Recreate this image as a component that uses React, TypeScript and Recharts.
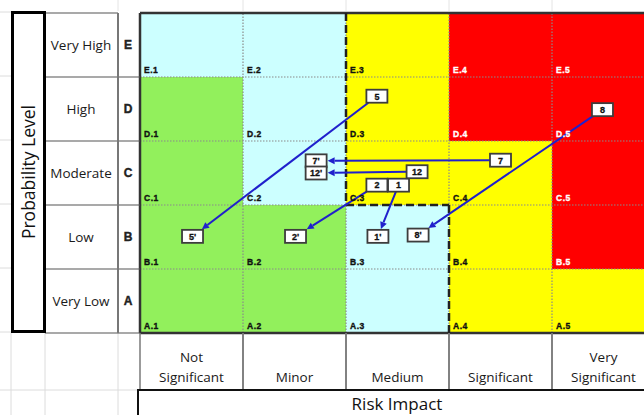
import React from 'react';
import { ScatterChart, Scatter, XAxis, YAxis, ReferenceArea, ReferenceLine } from 'recharts';

// impact categories (x axis), split into the lines they wrap to
const IMPACT = [['Not', 'Significant'], ['Minor'], ['Medium'], ['Significant'], ['Very', 'Significant']];
// probability levels (y axis), bottom to top
const LEVELS = ['Very Low', 'Low', 'Moderate', 'High', 'Very High'];
const CODES = ['A', 'B', 'C', 'D', 'E'];
const TICKS = [0.5, 1.5, 2.5, 3.5, 4.5];

// zone of each cell, rows A..E, columns 1..5
const ZONES = [
  ['G', 'G', 'C', 'Y', 'Y'],
  ['G', 'G', 'C', 'Y', 'R'],
  ['G', 'C', 'Y', 'Y', 'R'],
  ['G', 'C', 'Y', 'R', 'R'],
  ['C', 'C', 'Y', 'R', 'R'],
];
const ZONE_FILL: Record<string, string> = { G: '#92F05C', C: '#CCFFFF', Y: '#FFFF00', R: '#FF0000' };

// risks: where they sit now and where they move after mitigation
const RISK_IDS = ['1', '2', '5', '7', '8', '12'];
const BEFORE_X = [2.51, 2.3, 2.3, 3.5, 4.49, 2.69];
const BEFORE_Y = [2.31, 2.31, 3.7, 2.7, 3.49, 2.52];
const AFTER_X = [2.31, 1.51, 0.51, 1.71, 2.7, 1.71];
const AFTER_Y = [1.51, 1.51, 1.51, 2.69, 1.53, 2.5];

// acceptable-risk boundary (staircase)
const BOUNDARY = [
  { x: 2, y: 5 },
  { x: 2, y: 2 },
  { x: 3, y: 2 },
  { x: 3, y: 0 },
];

const W = 660;
const H = 391;
const MARGIN = { top: 13, right: 5, bottom: 0, left: 12 };
const Y_AXIS_W = 128;
const X_AXIS_H = 58;
const PLOT_LEFT = MARGIN.left + Y_AXIS_W;
const PLOT_BOTTOM = H - X_AXIS_H;
const COL_W = (W - PLOT_LEFT - MARGIN.right) / 5;
const ROW_H = (PLOT_BOTTOM - MARGIN.top) / 5;

const FONT = '"Open Sans", sans-serif';
const BOLD = '"Liberation Sans", Arial, sans-serif';
const BLUE = '#2020CC';
const BOX_W = 21;
const BOX_H = 13;

const before = RISK_IDS.map((id, i) => ({ id, x: BEFORE_X[i], y: BEFORE_Y[i] }));
const after = RISK_IDS.map((id, i) => ({ id: id + "'", x: AFTER_X[i], y: AFTER_Y[i] }));

function ImpactTick(props: any) {
  const { x, payload } = props;
  const lines = IMPACT[Math.floor(payload.value)];
  const left = x - COL_W / 2;
  return (
    <g>
      <line x1={left} x2={left} y1={PLOT_BOTTOM} y2={PLOT_BOTTOM + 57} stroke="#7a7a7a" strokeWidth={1.5} />
      <line x1={left + COL_W} x2={left + COL_W} y1={PLOT_BOTTOM} y2={PLOT_BOTTOM + 57} stroke="#7a7a7a" strokeWidth={1.5} />
      <text textAnchor="middle" fontSize={13.5} fontFamily={FONT} fill="#1a1a1a">
        {lines.map((l, k) => (
          <tspan key={k} x={x} y={PLOT_BOTTOM + 49 - (lines.length - 1 - k) * 20}>
            {l}
          </tspan>
        ))}
      </text>
    </g>
  );
}

function LevelTick(props: any) {
  const { y, payload } = props;
  const i = Math.floor(payload.value);
  const top = y - ROW_H / 2;
  return (
    <g>
      <line x1={45} x2={i === 4 ? 118 : PLOT_LEFT} y1={top} y2={top} stroke="#555" strokeWidth={1.2} />
      {i === 0 && <line x1={45} x2={PLOT_LEFT} y1={top + ROW_H} y2={top + ROW_H} stroke="#555" strokeWidth={1.2} />}
      <line x1={118} x2={118} y1={top} y2={top + ROW_H} stroke="#777" strokeWidth={2} />
      <text x={81} y={y + 5} textAnchor="middle" fontSize={13.5} fontFamily={FONT} fill="#1a1a1a">
        {LEVELS[i]}
      </text>
      <text x={128} y={y + 4} textAnchor="middle" fontSize={12} fontWeight={700} fontFamily={BOLD} fill="#222" stroke="#222" strokeWidth={0.4}>
        {CODES[i]}
      </text>
    </g>
  );
}

function RiskBox(props: any) {
  const { cx, cy, payload } = props;
  return (
    <g>
      <rect x={cx - BOX_W / 2} y={cy - BOX_H / 2} width={BOX_W} height={BOX_H} fill="#fff" stroke="#3d3d3d" strokeWidth={1.8} />
      <text x={cx} y={cy + 3.3} textAnchor="middle" fontSize={9} fontWeight={700} fontFamily={BOLD} fill="#111" stroke="#111" strokeWidth={0.3}>
        {payload.id}
      </text>
    </g>
  );
}

function clip(dx: number, dy: number) {
  const tx = dx === 0 ? Infinity : BOX_W / 2 / Math.abs(dx);
  const ty = dy === 0 ? Infinity : BOX_H / 2 / Math.abs(dy);
  return Math.min(tx, ty);
}

function Arrow(props: any) {
  const { x1, y1, x2, y2 } = props;
  if (x1 == null) return <g />;
  const dx = x2 - x1;
  const dy = y2 - y1;
  const len = Math.hypot(dx, dy);
  const ux = dx / len;
  const uy = dy / len;
  const t = clip(dx, dy);
  const sx = x1 + dx * t;
  const sy = y1 + dy * t;
  const tipX = x2 - dx * t - ux * 1;
  const tipY = y2 - dy * t - uy * 1;
  const bx = tipX - ux * 7;
  const by = tipY - uy * 7;
  return (
    <g>
      <line x1={sx} y1={sy} x2={bx} y2={by} stroke={BLUE} strokeWidth={2} />
      <polygon
        points={`${tipX},${tipY} ${bx - uy * 3.5},${by + ux * 3.5} ${bx + uy * 3.5},${by - ux * 3.5}`}
        fill={BLUE}
      />
    </g>
  );
}

export default function App() {
  const cells: React.ReactNode[] = [];
  ZONES.forEach((row, r) =>
    row.forEach((z, c) => {
      const ink = z === 'R' ? '#fff' : '#111';
      cells.push(
        <ReferenceArea
          key={`${r}-${c}`}
          x1={c}
          x2={c + 1}
          y1={r}
          y2={r + 1}
          fill={ZONE_FILL[z]}
          fillOpacity={1}
          stroke="none"
          label={{
            value: `${CODES[r]}.${c + 1}`,
            position: 'insideBottomLeft',
            offset: 4,
            fill: ink,
            stroke: ink,
            strokeWidth: 0.35,
            fontSize: 8.5,
            fontWeight: 700,
            fontFamily: BOLD,
            letterSpacing: 0.5,
          }}
        />
      );
    })
  );

  return (
    <div style={{ position: 'fixed', left: 0, top: 0, width: 644, height: 415, overflow: 'hidden', background: '#fff' }}>
      <svg width={644} height={415} style={{ position: 'absolute', left: 0, top: 0 }}>
        {[12, 76, 140, 204, 268, 332].map((y) => (
          <line key={y} x1={0} x2={11} y1={y} y2={y} stroke="#dcdcdc" />
        ))}
        {[11, 45, 118].map((x) => (
          <line key={x} x1={x} x2={x} y1={333} y2={415} stroke="#dcdcdc" />
        ))}
        <line x1={0} x2={137} y1={390} y2={390} stroke="#dcdcdc" />
        {[118, 243, 346, 449, 552].map((x) => (
          <line key={x} x1={x} x2={x} y1={0} y2={11} stroke="#e4e4e4" />
        ))}
      </svg>
      <div style={{ position: 'absolute', left: 0, top: 0 }}>
        <ScatterChart width={W} height={H} margin={MARGIN}>
          <XAxis
            type="number"
            dataKey="x"
            domain={[0, 5]}
            ticks={TICKS}
            interval={0}
            height={X_AXIS_H}
            axisLine={false}
            tickLine={false}
            tick={ImpactTick}
          />
          <YAxis
            type="number"
            dataKey="y"
            domain={[0, 5]}
            ticks={TICKS}
            interval={0}
            width={Y_AXIS_W}
            axisLine={false}
            tickLine={false}
            tick={LevelTick}
          />
          {cells}
          {[1, 2, 3, 4].map((v) => (
            <ReferenceLine key={`x${v}`} x={v} stroke="#8a8a8a" strokeWidth={1.2} strokeDasharray="1.5 1.5" />
          ))}
          {[1, 2, 3, 4].map((v) => (
            <ReferenceLine key={`y${v}`} y={v} stroke="#8a8a8a" strokeWidth={1.2} strokeDasharray="1.5 1.5" />
          ))}
          <ReferenceLine y={5} stroke="#333" strokeWidth={2.5} />
          <ReferenceLine y={0} stroke="#333" strokeWidth={2.5} />
          <ReferenceLine x={0} stroke="#333" strokeWidth={2.5} />
          {BOUNDARY.slice(1).map((p, i) => (
            <ReferenceLine
              key={`b${i}`}
              segment={[BOUNDARY[i], p]}
              stroke="#222"
              strokeWidth={2.5}
              strokeDasharray="8 4"
            />
          ))}
          {before.map((b, i) => (
            <ReferenceLine
              key={`a${i}`}
              segment={[
                { x: b.x, y: b.y },
                { x: after[i].x, y: after[i].y },
              ]}
              shape={Arrow}
            />
          ))}
          <Scatter data={before} shape={RiskBox} isAnimationActive={false} />
          <Scatter data={after} shape={RiskBox} isAnimationActive={false} />
        </ScatterChart>
      </div>
      <div
        style={{
          position: 'absolute',
          left: 11,
          top: 11,
          width: 35,
          height: 322,
          border: '3px solid #000',
          boxSizing: 'border-box',
          display: 'flex',
          alignItems: 'center',
          justifyContent: 'center',
        }}
      >
        <div style={{ transform: 'rotate(-90deg)', whiteSpace: 'nowrap', fontFamily: FONT, fontSize: 17.5, color: '#111' }}>
          Probability Level
        </div>
      </div>
      <div
        style={{
          position: 'absolute',
          left: 137,
          top: 389,
          width: 530,
          height: 40,
          borderLeft: '2px solid #111',
          borderTop: '2px solid #111',
          boxSizing: 'border-box',
        }}
      >
        <div
          style={{
            position: 'absolute',
            left: 0,
            width: 516,
            top: 0,
            textAlign: 'center',
            fontFamily: FONT,
            fontSize: 17,
            lineHeight: '26px',
            color: '#111',
          }}
        >
          Risk Impact
        </div>
      </div>
    </div>
  );
}
